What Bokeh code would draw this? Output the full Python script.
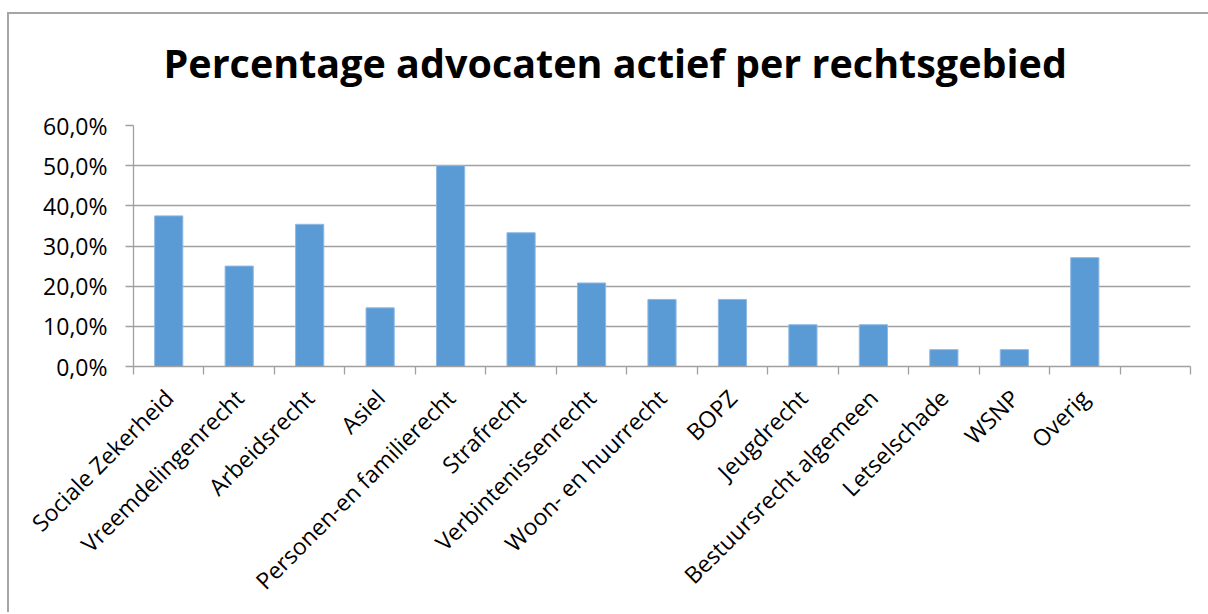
import math
import numpy as np
from bokeh.plotting import figure
from bokeh.models import Range1d, FixedTicker, Title
from bokeh.layouts import column
from bokeh.embed import file_html
from bokeh.resources import INLINE

title_text = "Percentage advocaten actief per rechtsgebied"
categories = [
    "Sociale Zekerheid", "Vreemdelingenrecht", "Arbeidsrecht", "Asiel",
    "Personen-en familierecht", "Strafrecht", "Verbintenissenrecht",
    "Woon- en huurrecht", "BOPZ", "Jeugdrecht", "Bestuursrecht algemeen",
    "Letselschade", "WSNP", "Overig",
]
values = [37.5, 25.0, 35.4, 14.6, 50.0, 33.3, 20.8, 16.7, 16.7, 10.4, 10.4, 4.2, 4.2, 27.1]
y_ticks = [0, 10, 20, 30, 40, 50, 60]
y_tick_labels = ["0,0%", "10,0%", "20,0%", "30,0%", "40,0%", "50,0%", "60,0%"]
n_slots = len(categories) + 1  # one empty slot at the end, as in the source

FONT = "Open Sans"
GRAY = "#a0a0a0"
FRAME_GRAY = "#a6a6a6"

centers = [i + 0.5 for i in range(len(categories))]

p = figure(
    width=1208, height=612,
    x_range=Range1d(0, n_slots), y_range=Range1d(0, 60),
    output_backend="svg", toolbar_location=None, tools="",
    min_border_left=133, min_border_right=18,
    min_border_top=125, min_border_bottom=246,
)
p.outline_line_color = None
p.background_fill_color = "white"
p.border_fill_color = None

p.vbar(x=centers, top=values, width=0.4, bottom=0,
       fill_color="#5b9bd5", line_color="#8fb9e3", line_width=1)

t = Title(text=title_text, text_font=FONT, text_font_size="39.5px",
          text_font_style="bold", text_color="black", align="left",
          vertical_align="top", offset=30, standoff=68)
p.add_layout(t, "above")

# x axis
xa = p.xaxis[0]
xa.ticker = FixedTicker(ticks=centers, minor_ticks=list(range(n_slots + 1)))
xa.major_label_overrides = {c: lab for c, lab in zip(centers, categories)}
xa.major_label_orientation = math.pi / 4
xa.major_tick_line_color = None
xa.minor_tick_line_color = GRAY
xa.minor_tick_line_width = 1.3
xa.minor_tick_out = 8
xa.minor_tick_in = 0
xa.axis_line_color = GRAY
xa.axis_line_width = 1.3
xa.major_label_text_font = FONT
xa.major_label_text_font_size = "23px"
xa.major_label_text_color = "black"
xa.major_label_standoff = 19

# y axis
ya = p.yaxis[0]
ya.ticker = FixedTicker(ticks=y_ticks)
ya.major_label_overrides = {v: lab for v, lab in zip(y_ticks, y_tick_labels)}
ya.major_tick_line_color = GRAY
ya.major_tick_line_width = 1.3
ya.major_tick_out = 8
ya.major_tick_in = 0
ya.minor_tick_line_color = None
ya.axis_line_color = GRAY
ya.axis_line_width = 1.3
ya.major_label_text_font = FONT
ya.major_label_text_font_size = "23px"
ya.major_label_text_color = "black"
ya.major_label_standoff = 18

p.xgrid.visible = False
p.ygrid.grid_line_color = GRAY
p.ygrid.grid_line_width = 1.3

# outer chart-area border (left and top edges), drawn behind the transparent figure
layout = column(p, width=1208, height=612,
                styles={"position": "fixed", "top": "0px", "left": "0px",
                        "background-color": "white",
                        "background-image": f"linear-gradient({FRAME_GRAY}, {FRAME_GRAY}), "
                                            f"linear-gradient({FRAME_GRAY}, {FRAME_GRAY})",
                        "background-size": "2px 612px, 1208px 2px",
                        "background-position": "7px 12px, 7px 12px",
                        "background-repeat": "no-repeat"})

open("out.html", "w").write(file_html(layout, INLINE))
